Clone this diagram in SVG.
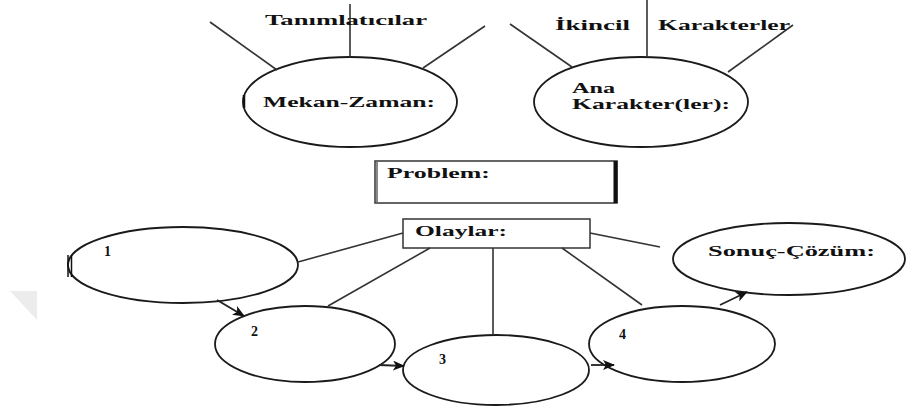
<svg xmlns="http://www.w3.org/2000/svg" width="907" height="412" viewBox="0 0 907 412">
  <defs>
    <style>
      .bubble { fill: #ffffff; stroke: #1a1a1a; stroke-width: 1.8; }
      .box { fill: #ffffff; stroke: #333333; stroke-width: 1.5; }
      .link { fill: none; stroke: #333333; stroke-width: 1.6; }
      .arrow { fill: none; stroke: #222222; stroke-width: 1.8; marker-end: url(#head); }
      .lbl { font-family: "Liberation Serif", "Times New Roman", serif; font-weight: bold; font-size: 15px; fill: #111111; }
      .num { font-family: "Liberation Serif", "Times New Roman", serif; font-weight: bold; font-size: 14px; fill: #111111; }
    </style>
    <marker id="head" viewBox="0 0 12 10" refX="11" refY="5" markerWidth="13" markerHeight="10" orient="auto" markerUnits="userSpaceOnUse">
      <path d="M0,0 L12,5 L0,10 L3,5 z" fill="#111111"/>
    </marker>
  </defs>

  <rect width="907" height="412" fill="#ffffff"/>
  <!-- faint corner mark at the left margin -->
  <polygon points="10,291 37,291 37,320" fill="#ececec"/>

  <g id="mekan-zaman">
    <ellipse class="bubble" cx="350" cy="102" rx="107" ry="45"/>
    <line x1="244" y1="95" x2="244" y2="108" stroke="#111111" stroke-width="2.5"/>
    <text class="lbl" x="263" y="107" textLength="172" lengthAdjust="spacingAndGlyphs">Mekan-Zaman:</text>
  </g>

  <g id="ana-karakterler">
    <ellipse class="bubble" cx="641" cy="102" rx="107" ry="45"/>
    <text class="lbl" x="572" y="93" textLength="43" lengthAdjust="spacingAndGlyphs">Ana</text>
    <text class="lbl" x="572" y="109" textLength="158" lengthAdjust="spacingAndGlyphs">Karakter(ler):</text>
  </g>

  <g id="problem">
    <rect class="box" x="375" y="161" width="242" height="42"/>
    <line x1="377" y1="162" x2="377" y2="202" stroke="#888888" stroke-width="2"/>
    <line x1="615.5" y1="161" x2="615.5" y2="203" stroke="#111111" stroke-width="4"/>
    <text class="lbl" x="387" y="178" textLength="103" lengthAdjust="spacingAndGlyphs">Problem:</text>
  </g>

  <g id="olaylar">
    <rect class="box" x="403" y="219" width="187" height="29" stroke="#555555"/>
    <text class="lbl" x="415" y="236" textLength="92" lengthAdjust="spacingAndGlyphs">Olaylar:</text>
  </g>

  <g id="olay-1">
    <ellipse class="bubble" cx="183" cy="265" rx="115" ry="38"/>
    <line x1="68" y1="255" x2="68" y2="277" stroke="#111111" stroke-width="1.5"/>
    <line x1="71.5" y1="255" x2="71.5" y2="277" stroke="#111111" stroke-width="1.5"/>
    <text class="num" x="104" y="256">1</text>
  </g>

  <g id="olay-2">
    <ellipse class="bubble" cx="305" cy="344" rx="90" ry="38"/>
    <text class="num" x="251" y="336">2</text>
  </g>

  <g id="olay-3">
    <ellipse class="bubble" cx="496" cy="370" rx="93" ry="35"/>
    <text class="num" x="439" y="364">3</text>
  </g>

  <g id="olay-4">
    <ellipse class="bubble" cx="682" cy="344" rx="93" ry="38"/>
    <text class="num" x="619" y="339">4</text>
  </g>

  <g id="sonuc-cozum">
    <ellipse class="bubble" cx="789" cy="259" rx="116" ry="36"/>
    <text class="lbl" x="708" y="256" textLength="167" lengthAdjust="spacingAndGlyphs">Sonuç-Çözüm:</text>
  </g>

  <g id="connectors">
    <!-- spokes above the setting bubble -->
    <line class="link" x1="210" y1="22" x2="277" y2="70"/>
    <line class="link" x1="485" y1="26" x2="423" y2="68"/>
    <line class="link" x1="350" y1="4" x2="350" y2="57" stroke-width="2.4"/>
    <!-- spokes above the characters bubble -->
    <line class="link" x1="510" y1="24" x2="572" y2="67"/>
    <line class="link" x1="793" y1="25" x2="728" y2="72"/>
    <line class="link" x1="647" y1="0" x2="647" y2="57" stroke="#111111" stroke-width="3.2"/>
    <!-- events box to the episode bubbles -->
    <line class="link" x1="403" y1="233" x2="298" y2="262"/>
    <line class="link" x1="430" y1="248" x2="328" y2="306"/>
    <line class="link" x1="493" y1="248" x2="493" y2="335" stroke="#666666" stroke-width="2.2"/>
    <line class="link" x1="562" y1="248" x2="642" y2="305"/>
    <line class="link" x1="590" y1="233" x2="660" y2="247"/>
    <!-- sequence arrows -->
    <line class="arrow" x1="217" y1="300" x2="244" y2="316"/>
    <line class="arrow" x1="379" y1="365" x2="404" y2="366"/>
    <line class="arrow" x1="591" y1="365" x2="614" y2="365"/>
    <line class="arrow" x1="720" y1="305" x2="747" y2="292"/>
  </g>

  <g id="tanimlaticilar">
    <text class="lbl" x="265" y="25" textLength="162" lengthAdjust="spacingAndGlyphs">Tanımlatıcılar</text>
  </g>

  <g id="ikincil-karakterler">
    <text class="lbl" x="555" y="30" textLength="75" lengthAdjust="spacingAndGlyphs">İkincil</text>
    <text class="lbl" x="658" y="30" textLength="132" lengthAdjust="spacingAndGlyphs">Karakterler</text>
  </g>
</svg>
